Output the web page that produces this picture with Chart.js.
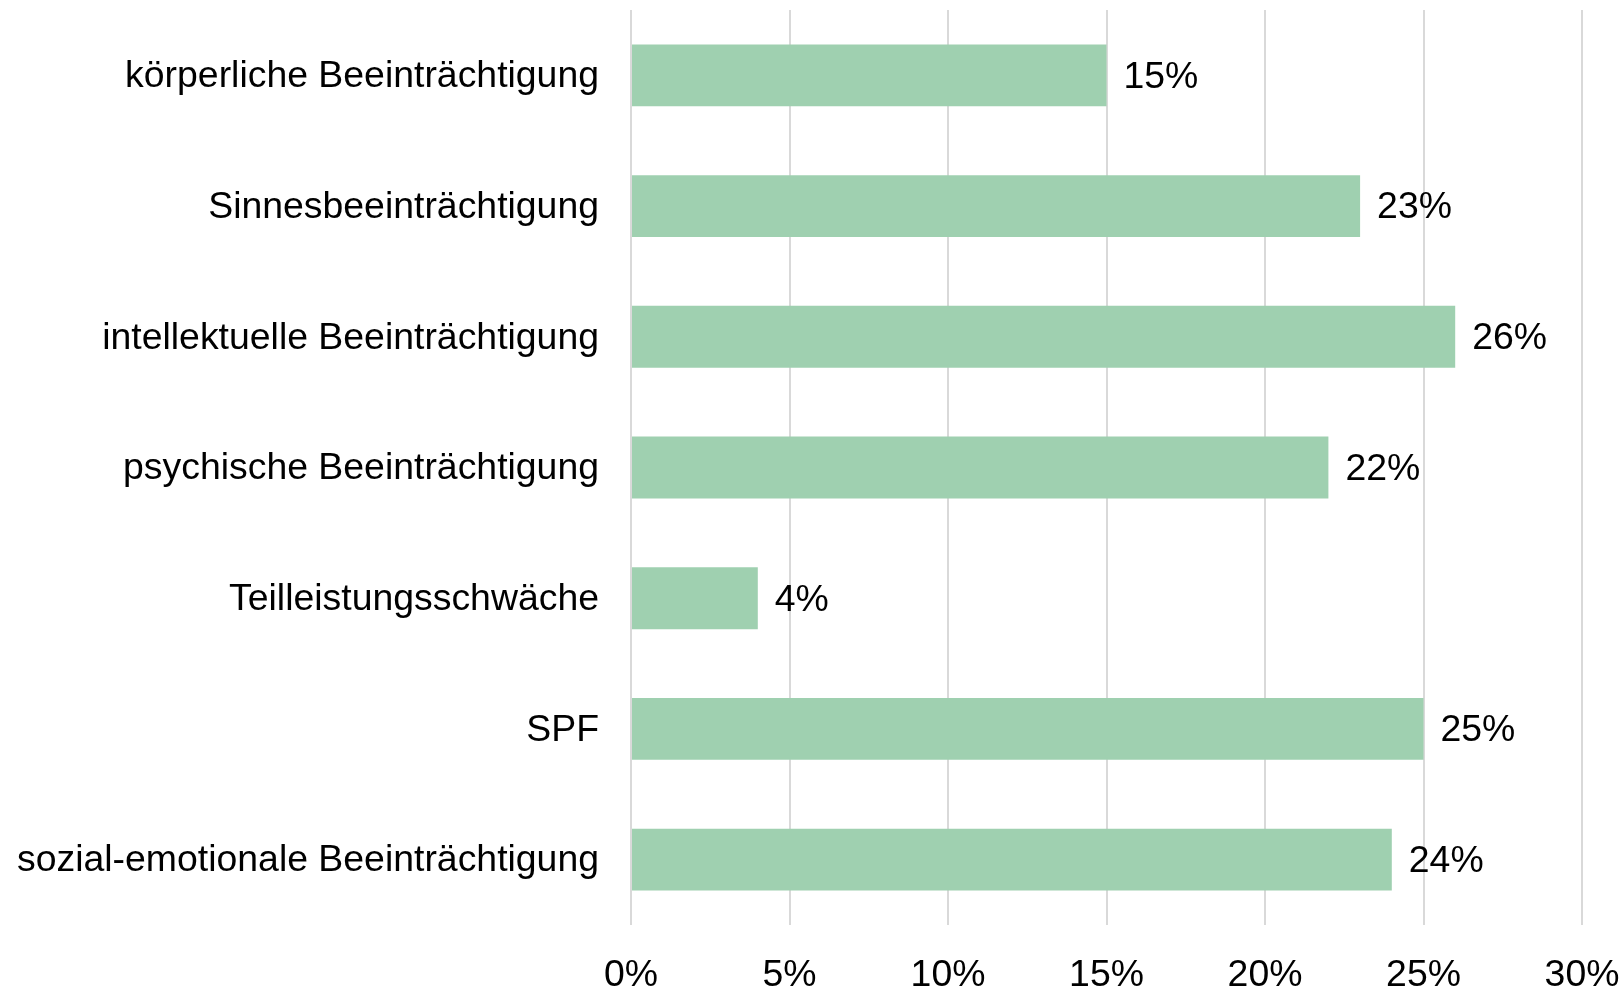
<!DOCTYPE html>
<html>
<head>
<meta charset="utf-8">
<script src="https://cdn.jsdelivr.net/npm/chart.js@4"></script>
<style>
  html, body { margin: 0; padding: 0; background: #fff; }
  #wrap { width: 1624px; height: 989px; }
</style>
</head>
<body>
<div id="wrap"><canvas id="chart" width="1624" height="989"></canvas></div>
<script>
const categories = [
  'körperliche Beeinträchtigung',
  'Sinnesbeeinträchtigung',
  'intellektuelle Beeinträchtigung',
  'psychische Beeinträchtigung',
  'Teilleistungsschwäche',
  'SPF',
  'sozial-emotionale Beeinträchtigung'
];
const shares = [15, 23, 26, 22, 4, 25, 24];
const xTicks = [0, 5, 10, 15, 20, 25, 30];

const FONT = '"Liberation Sans", Arial, sans-serif';
const SIZE = 37.4;

// value labels at the end of each bar
const barLabels = {
  id: 'barLabels',
  afterDatasetsDraw(chart) {
    const ctx = chart.ctx;
    const meta = chart.getDatasetMeta(0);
    ctx.save();
    ctx.font = SIZE + 'px ' + FONT;
    ctx.fillStyle = '#000';
    ctx.textAlign = 'left';
    ctx.textBaseline = 'middle';
    meta.data.forEach((bar, i) => {
      ctx.fillText(shares[i] + '%', bar.x + 17, bar.y + 2);
    });
    ctx.restore();
  }
};

// drop the automatic label overhang padding so the plot area sits where we want it
function noPad(scale) {
  scale.paddingTop = 0;
  scale.paddingBottom = 0;
  scale.paddingLeft = 0;
  scale.paddingRight = 0;
}

new Chart(document.getElementById('chart'), {
  type: 'bar',
  data: {
    labels: categories,
    datasets: [{
      data: shares,
      backgroundColor: '#9fd0b0',
      borderWidth: 0,
      categoryPercentage: 0.473,
      barPercentage: 1
    }]
  },
  options: {
    indexAxis: 'y',
    responsive: false,
    animation: false,
    layout: { padding: { top: 10, right: 42, bottom: 0, left: 0 } },
    plugins: {
      legend: { display: false },
      tooltip: { enabled: false }
    },
    scales: {
      x: {
        min: 0,
        max: 30,
        afterBuildTicks(scale) {
          scale.ticks = xTicks.map(v => ({ value: v }));
        },
        afterFit(scale) { scale.height = 64; noPad(scale); },
        grid: { color: '#d9d9d9', lineWidth: 2, drawTicks: false },
        border: { display: false },
        ticks: {
          padding: 28,
          color: '#000',
          font: { family: FONT, size: SIZE },
          callback: v => v + '%'
        }
      },
      y: {
        afterFit(scale) { scale.width = 631; noPad(scale); },
        grid: { display: false, drawTicks: false },
        border: { display: false },
        ticks: {
          padding: 32,
          labelOffset: 1.5,
          color: '#000',
          font: { family: FONT, size: SIZE }
        }
      }
    }
  },
  plugins: [barLabels]
});
</script>
</body>
</html>
